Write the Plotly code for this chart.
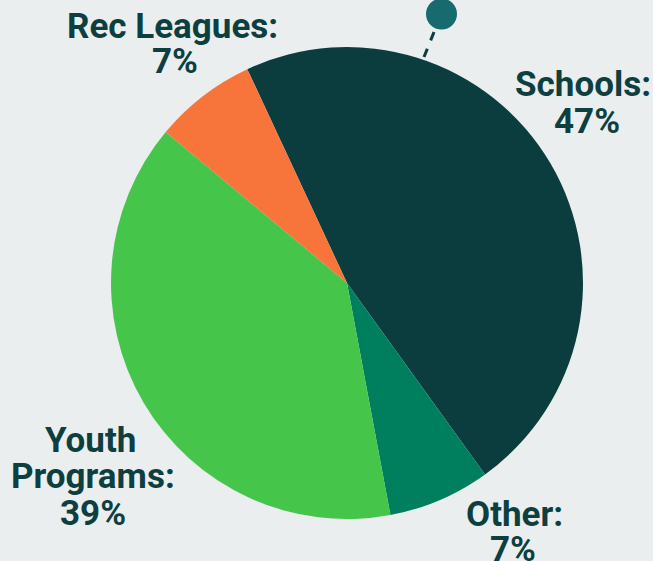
import plotly.graph_objects as go

categories = ["Schools", "Other", "Youth Programs", "Rec Leagues"]
shares = [47, 7, 39, 7]

slice_colors = ["#0b3d3e", "#007f5f", "#45c64a", "#f7743a"]
text_color = "#0e3f40"
W, H = 653, 561

fig = go.Figure()
fig.add_trace(go.Pie(
    labels=categories,
    values=shares,
    sort=False,
    direction="clockwise",
    rotation=-25,
    textinfo="none",
    hoverinfo="label+percent",
    marker=dict(colors=slice_colors, line=dict(width=0)),
    showlegend=False,
    domain=dict(x=[0.170, 0.8928], y=[0.0748, 0.9162]),
))

# per-line center x and cap-middle y (px) for each category label
label_layout = {
    "Rec Leagues": ([172, 175], [27, 61.5]),
    "Schools": ([583, 587], [84.5, 121.5]),
    "Other": ([514, 513], [514, 549.5]),
    "Youth Programs": ([90, 93, 93], [440.5, 476.5, 513]),
}

annotations = []
for cat, val in zip(categories, shares):
    words = cat.split(" ")
    if cat == "Youth Programs":
        lines = [words[0], words[1] + ":", f"{val}%"]
    else:
        lines = [cat + ":", f"{val}%"]
    xs, ys = label_layout[cat]
    for line, x, y in zip(lines, xs, ys):
        annotations.append(dict(
            text=f"<b>{line}</b>", x=x / W, y=1 - y / H,
            xref="paper", yref="paper", xanchor="center", yanchor="middle",
            showarrow=False,
            font=dict(family="Roboto", size=35, color=text_color),
        ))

shapes = [
    dict(type="line", xref="paper", yref="paper",
         x0=434 / W, y0=1 - 32 / H, x1=424 / W, y1=1 - 57 / H,
         line=dict(color="#0b3d3e", width=3, dash="dash")),
    dict(type="circle", xref="paper", yref="paper",
         x0=(441.5 - 15.5) / W, y0=1 - (14 + 15.5) / H,
         x1=(441.5 + 15.5) / W, y1=1 - (14 - 15.5) / H,
         fillcolor="#176b6e", line=dict(width=0)),
]

fig.update_layout(
    width=W, height=H,
    margin=dict(l=0, r=0, t=0, b=0),
    paper_bgcolor="#eaeeee",
    plot_bgcolor="#eaeeee",
    annotations=annotations,
    shapes=shapes,
)

fig.write_html(
    "out.html",
    config={"displayModeBar": False},
    post_script="document.body.style.margin='0';document.body.style.overflow='hidden';",
)
